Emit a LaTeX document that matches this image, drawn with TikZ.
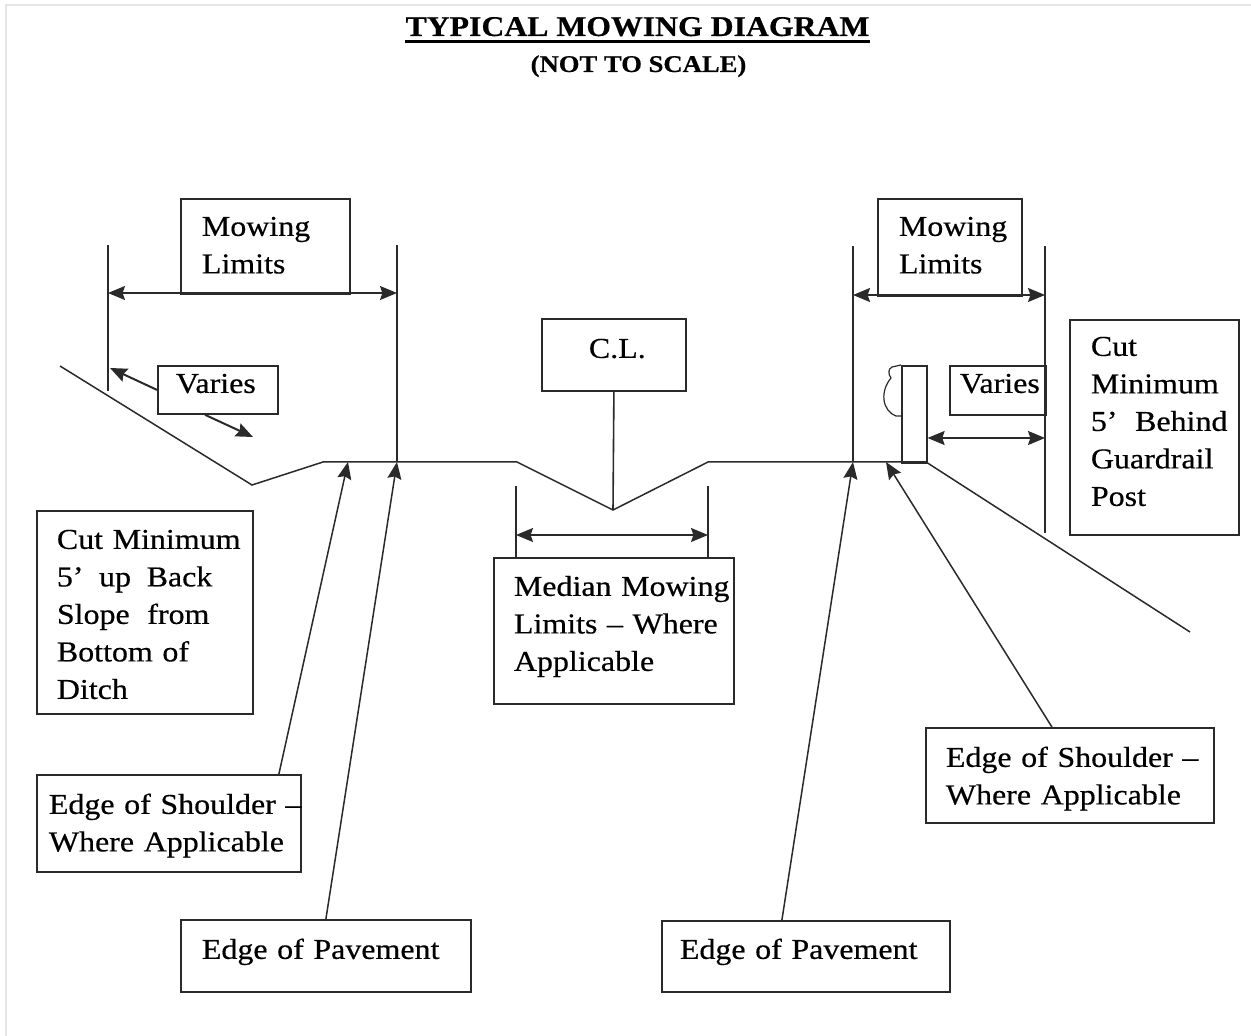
\documentclass[tikz,border=0pt]{standalone}
\usepackage{fontspec}
\setmainfont{Liberation Serif}[FakeStretch=1.11,FakeBold=0.5]
\usetikzlibrary{arrows.meta}
\hfuzz=300pt
\hbadness=10000
\definecolor{ink}{HTML}{2A2A2A}
\begin{document}
\begin{tikzpicture}[x=0.5pt,y=-0.5pt,
  ln/.style={draw=ink, line width=0.8pt},
  tipend/.style={-{Stealth[length=8.5pt,width=7pt,inset=1.2pt]}},
  tipboth/.style={{Stealth[length=8.5pt,width=7pt,inset=1.2pt]}-{Stealth[length=8.5pt,width=7pt,inset=1.2pt]}},
  tbox/.style={draw=ink, line width=0.9pt, anchor=north west, inner ysep=0pt,
    align=left, font=\fontsize{14.4}{18.75}\selectfont},
  ttl/.style={inner sep=0pt, anchor=base, font=\fontsize{14.3}{17}\selectfont\bfseries},
  sub/.style={inner sep=0pt, anchor=base, font=\fontsize{12}{14}\selectfont\bfseries}]
\useasboundingbox (0,0) rectangle (1251,1036);
\fill[white] (0,0) rectangle (1251,1036);
\draw[black!10, line width=1pt] (6,1036) -- (6,5) -- (1251,5);

% title
\node[ttl] (title) at (637.5,36) {TYPICAL MOWING DIAGRAM};
\draw[line width=1.5pt] ([yshift=-2.8pt]title.base west) -- ([yshift=-2.8pt]title.base east);
\node[sub] (subtitle) at (638.5,72) {(NOT TO SCALE)};

% ground profile
\draw[ln, line width=0.75pt] (60,366) -- (252,485) -- (323,462) -- (517,462) -- (613,510)
  -- (708,462) -- (926,462) -- (1190,632);

% ---------- left side ----------
\node[tbox, text width=63.5pt, inner xsep=10.5pt, text height=18.5pt, text depth=29pt]
  (mlL) at (180,198) {\mbox{Mowing}\\\mbox{Limits}};
\draw[ln] (108,245) -- (108,391);
\draw[ln] (397,245) -- (397,462);
\coordinate (dLl) at (108,293);
\coordinate (dLr) at (397,293);
\draw[ln, tipboth] (dLl) -- (dLr);

\node[tbox, text width=42pt, inner xsep=9pt, text height=13.5pt, text depth=10.5pt]
  (varL) at (157,365) {\mbox{Varies}};
\coordinate (vLa) at (110,368);
\coordinate (vLb) at (253,437);
\draw[ln, line width=1pt, tipend] (varL.west) -- (vLa);
\draw[ln, line width=1pt, tipend] ([xshift=24pt]varL.south west) -- (vLb);

\node[tbox, text width=88pt, inner xsep=10pt, text height=19pt, text depth=82.5pt]
  (cutL) at (36,510) {\mbox{Cut Minimum}\\\mbox{5’\hspace{3pt} up\hspace{3pt} Back}\\\mbox{Slope\hspace{4pt} from}\\\mbox{Bottom of}\\\mbox{Ditch}};

\node[tbox, text width=120pt, inner xsep=6pt, text height=19.5pt, text depth=29pt]
  (shL) at (36,774) {\mbox{Edge of Shoulder –}\\\mbox{Where Applicable}};
\node[tbox, text width=124pt, inner xsep=10.5pt, text height=19.5pt, text depth=16.5pt]
  (pvL) at (180,919) {\mbox{Edge of Pavement}};
\coordinate (gSL) at (348,462);
\coordinate (gPL) at (397,462);
\draw[ln, line width=0.75pt, tipend] ([xshift=55pt]shL.north) -- (gSL);
\draw[ln, line width=0.75pt, tipend] (pvL.north) -- (gPL);

% ---------- median ----------
\node[tbox, text width=25pt, inner xsep=23.5pt, text height=19.5pt, text depth=16.5pt]
  (cl) at (541,318) {\mbox{C.L.}};
\coordinate (vbot) at (613,510);
\draw[ln] (cl.south) -- (vbot);
\draw[ln] (516,486) -- (516,557);
\draw[ln] (708,486) -- (708,557);
\coordinate (dMl) at (516,535);
\coordinate (dMr) at (708,535);
\draw[ln, tipboth] (dMl) -- (dMr);
\node[tbox, text width=100pt, inner xsep=10pt, text height=19pt, text depth=54pt]
  (med) at (493,557) {\mbox{Median Mowing}\\\mbox{Limits – Where}\\\mbox{Applicable}};

% ---------- right side ----------
\node[tbox, text width=51pt, inner xsep=10.5pt, text height=18.5pt, text depth=30pt]
  (mlR) at (877,198) {\mbox{Mowing}\\\mbox{Limits}};
\draw[ln] (853,246) -- (853,462);
\draw[ln] (1045,246) -- (1045,533);
\coordinate (dRl) at (853,295);
\coordinate (dRr) at (1045,295);
\draw[ln, tipboth] (dRl) -- (dRr);

\node[tbox, text width=38pt, inner xsep=5pt, text height=13.5pt, text depth=11pt]
  (varR) at (949,365) {\mbox{Varies}};

\node[draw=ink, line width=0.8pt, anchor=north west, minimum width=12.5pt,
  minimum height=48.5pt, inner sep=0pt] (post) at (901,365) {};
\draw[ln, line width=0.6pt] (post.north west) -- (892,367)
  .. controls (888,369) and (888,374) .. (891,378)
  .. controls (886,384) and (883,392) .. (884,400)
  .. controls (885,408) and (890,414) .. (896,416) -- (901,416);
\coordinate (dGr) at (1045,438);
\draw[ln, line width=1pt, tipboth] (post.east |- dGr) -- (dGr);

\node[tbox, text width=63.5pt, inner xsep=10.5pt, text height=18pt, text depth=89.5pt]
  (cutR) at (1069,319) {\mbox{Cut}\\\mbox{Minimum}\\\mbox{5’\hspace{4pt} Behind}\\\mbox{Guardrail}\\\mbox{Post}};

\node[tbox, text width=124pt, inner xsep=10pt, text height=19.5pt, text depth=28pt]
  (shR) at (925,727) {\mbox{Edge of Shoulder –}\\\mbox{Where Applicable}};
\node[tbox, text width=126pt, inner xsep=9pt, text height=19pt, text depth=16.5pt]
  (pvR) at (661,920) {\mbox{Edge of Pavement}};
\coordinate (gPR) at (853,462);
\coordinate (gSR) at (886,462);
\draw[ln, line width=0.75pt, tipend] ([xshift=-12pt]pvR.north) -- (gPR);
\draw[ln, line width=0.75pt, tipend] ([xshift=-9pt]shR.north) -- (gSR);
\end{tikzpicture}
\end{document}
